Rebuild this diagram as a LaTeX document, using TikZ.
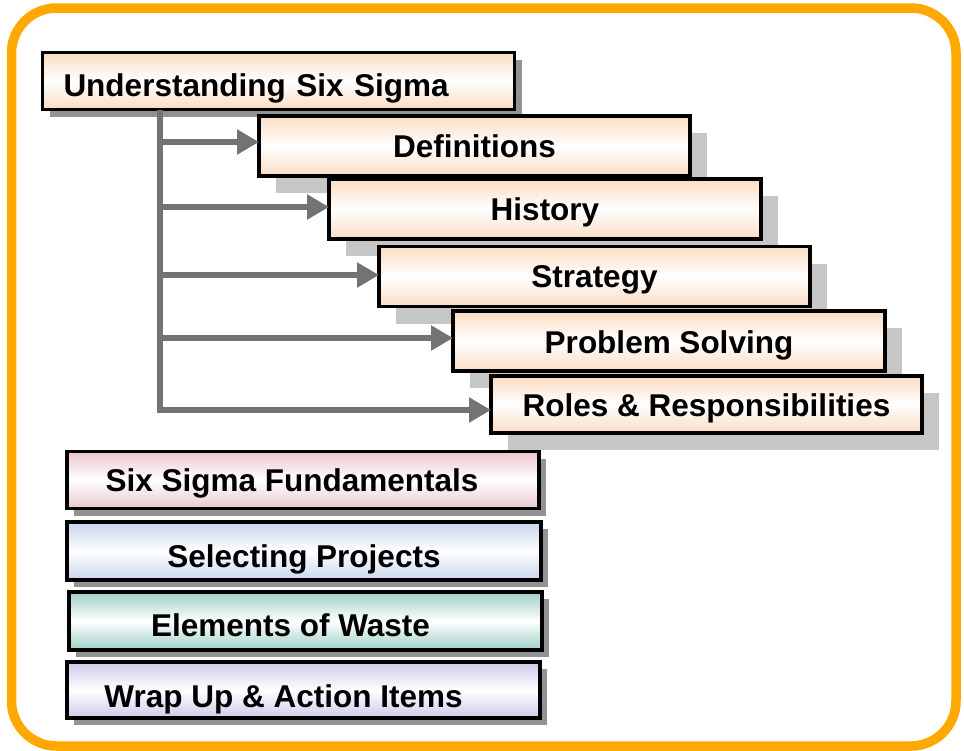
\documentclass[tikz,border=0pt]{standalone}
\usepackage{fontspec}
\setmainfont{Liberation Sans}
\usetikzlibrary{arrows.meta,shadows}
\definecolor{frameorange}{HTML}{FFA800}
\definecolor{peachA}{HTML}{FBDCC2}
\definecolor{peachC}{HTML}{F9DCC4}
\definecolor{pinkA}{HTML}{EBC6CB}
\definecolor{pinkC}{HTML}{E9C8CC}
\definecolor{blueA}{HTML}{C6D6EE}
\definecolor{blueC}{HTML}{C8D6EE}
\definecolor{tealA}{HTML}{9ECFC7}
\definecolor{tealC}{HTML}{9FD0C8}
\definecolor{lavA}{HTML}{CFC7E9}
\definecolor{lavC}{HTML}{D0C8EA}
\definecolor{shadeLight}{HTML}{C6C6C6}
\definecolor{shadeDark}{HTML}{929292}
\definecolor{connGray}{HTML}{737373}
\tikzset{
  box/.style={draw=black, line width=3.2pt, inner sep=0pt, outer sep=0pt,
    font=\bfseries\fontsize{31.5}{36}\selectfont, text=black,
    text height=22.6pt, text depth=0pt},
  peach/.style={top color=peachA, bottom color=peachC, middle color=white},
  pinkfill/.style={top color=pinkA, bottom color=pinkC, middle color=white},
  bluefill/.style={top color=blueA, bottom color=blueC, middle color=white},
  tealfill/.style={top color=tealA, bottom color=tealC, middle color=white},
  lavfill/.style={top color=lavA, bottom color=lavC, middle color=white},
  shadowL/.style={drop shadow={shadow xshift=17pt, shadow yshift=-17pt, fill=shadeLight, opacity=1}},
  shadowD/.style={drop shadow={shadow xshift=7pt, shadow yshift=-7pt, fill=shadeDark, opacity=1}},
  conn/.style={draw=connGray, line width=6pt},
  arr/.style={conn, -{Triangle[length=22pt,width=24pt]}},
  frame/.style={draw=frameorange, line width=9.5pt, rounded corners=45pt}
}
\begin{document}
\begin{tikzpicture}[x=1pt,y=-1pt]
\useasboundingbox (0,0) rectangle (964,750);
\draw[frame] (11.5,8) rectangle (956,746);

% staircase
\node[box, peach, shadowD, minimum width=472, minimum height=57,
      text width=430, align=left, text height=30.6pt] (top) at (278.5,81) {Understanding Six Sigma};
\node[box, peach, shadowL, minimum width=431, minimum height=60] (def) at (474.5,146) {Definitions};
\node[box, peach, shadowL, minimum width=432, minimum height=60] (hist) at (545,209) {History};
\node[box, peach, shadowL, minimum width=431, minimum height=60] (strat) at (594.5,276.5) {Strategy};
\node[box, peach, shadowL, minimum width=432, minimum height=60, text height=25.6pt] (prob) at (669,341) {Problem Solving};
\node[box, peach, shadowL, minimum width=431, minimum height=57, text height=24.6pt] (roles) at (706.5,404.5) {Roles \& Responsibilities};

% bottom list
\node[box, pinkfill, shadowD, minimum width=472, minimum height=57] (fund) at (303,480) {\hspace*{-22pt}Six Sigma Fundamentals};
\node[box, bluefill, shadowD, minimum width=474, minimum height=58, text height=32.6pt] (sel) at (304,551) {Selecting Projects};
\node[box, tealfill, shadowD, minimum width=473, minimum height=58, text height=31.6pt] (waste) at (305.5,621) {\hspace*{-30pt}Elements of Waste};
\node[box, lavfill, shadowD, minimum width=473, minimum height=56, text height=34.6pt] (wrap) at (303.5,690) {\hspace*{-40pt}Wrap Up \& Action Items};

% connectors
\coordinate (t0) at (160,110);
\coordinate (t1) at (160,142);
\coordinate (t2) at (160,207);
\coordinate (t3) at (160,275);
\coordinate (t4) at (160,338);
\coordinate (t5) at (160,410);
\draw[conn] (top.south -| t0) -- (t5);
\draw[arr] (t1) -- (def.west |- t1);
\draw[arr] (t2) -- (hist.west |- t2);
\draw[arr] (t3) -- (strat.west |- t3);
\draw[arr] (t4) -- (prob.west |- t4);
\draw[arr] ([xshift=-3pt]t5) -- (roles.west |- t5);
\end{tikzpicture}
\end{document}
